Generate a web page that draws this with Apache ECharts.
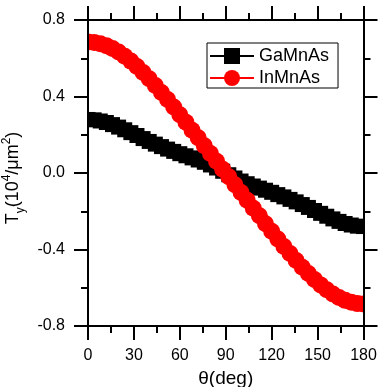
<!DOCTYPE html>
<html><head><meta charset="utf-8">
<script src="https://cdn.jsdelivr.net/npm/echarts@6/dist/echarts.min.js"></script>
<style>html,body{margin:0;padding:0;background:#fff}#c{width:378px;height:387px}</style>
</head><body><div id="c"></div>
<script>
// Data
const angles = [0,4,8,12,16,20,24,28,32,36,40,44,48,52,56,60,64,68,72,76,80,84,88,
  92,96,100,104,108,112,116,120,124,128,132,136,140,144,148,152,156,160,164,168,172,176,180];
const gaMnAs = [0.280,0.278,0.272,0.264,0.253,0.240,0.226,0.211,0.196,0.180,0.165,0.151,0.138,0.125,0.113,0.101,0.090,0.079,0.068,0.056,0.042,0.026,0.009,
  -0.009,-0.026,-0.042,-0.056,-0.068,-0.079,-0.090,-0.101,-0.113,-0.125,-0.138,-0.151,-0.165,-0.180,-0.196,-0.211,-0.226,-0.240,-0.253,-0.264,-0.272,-0.278,-0.280];
const inMnAs = [0.685,0.683,0.676,0.666,0.651,0.633,0.611,0.585,0.557,0.526,0.493,0.458,0.421,0.384,0.345,0.305,0.265,0.224,0.184,0.143,0.102,0.061,0.020,
  -0.020,-0.061,-0.102,-0.143,-0.184,-0.224,-0.265,-0.305,-0.345,-0.384,-0.421,-0.458,-0.493,-0.526,-0.557,-0.585,-0.611,-0.633,-0.651,-0.666,-0.676,-0.683,-0.685];
const seriesNames = ['GaMnAs','InMnAs'];
const xRange = [0, 180, 30];
const yRange = [-0.8, 0.8, 0.4];

const FONT = 'Liberation Sans, Arial, sans-serif';
const G = {left: 88, right: 14.5, top: 20, bottom: 61};
const W = 378, H = 387;

function axisCommon(showLabel) {
  return {
    z: 4,
    axisLine: {show: true, onZero: false, lineStyle: {color: '#000', width: 2}},
    axisTick: {show: true, inside: false, length: 14, lineStyle: {color: '#000', width: 2}},
    minorTick: {show: true, splitNumber: 2, length: 7, lineStyle: {color: '#000', width: 2}},
    splitLine: {show: false},
    minorSplitLine: {show: false},
    axisLabel: {show: showLabel, color: '#000', fontSize: 16, fontFamily: FONT}
  };
}

const xMain = Object.assign(axisCommon(true), {
  type: 'value', position: 'bottom', min: xRange[0], max: xRange[1], interval: xRange[2],
  name: 'θ(deg)', nameLocation: 'middle', nameGap: 42,
  nameTextStyle: {fontSize: 19, fontFamily: FONT, color: '#000'}
});
xMain.axisLabel.margin = 22;
const xTop = Object.assign(axisCommon(false), {
  type: 'value', position: 'top', min: xRange[0], max: xRange[1], interval: xRange[2]
});
const yMain = Object.assign(axisCommon(true), {
  type: 'value', position: 'left', min: yRange[0], max: yRange[1], interval: yRange[2],
  name: '{a|T}{sub|y}{a|(10}{sup|4}{a|/μm}{sup|2}{a|)}',
  nameLocation: 'middle', nameGap: 56, nameRotate: 90,
  nameTextStyle: {
    fontFamily: FONT, color: '#000', fontSize: 18, lineHeight: 26, padding: [0, 10, 0, 0],
    rich: {
      a: {fontSize: 18, fontFamily: FONT, color: '#000', lineHeight: 26, verticalAlign: 'middle'},
      sub: {fontSize: 12, fontFamily: FONT, color: '#000', lineHeight: 26, verticalAlign: 'bottom'},
      sup: {fontSize: 12, fontFamily: FONT, color: '#000', lineHeight: 26, verticalAlign: 'top'}
    }
  }
});
yMain.axisLabel.margin = 23;
yMain.axisLabel.formatter = v => v.toFixed(1);
const yRight = Object.assign(axisCommon(false), {
  type: 'value', position: 'right', min: yRange[0], max: yRange[1], interval: yRange[2]
});

const chart = echarts.init(document.getElementById('c'), null, {renderer: 'canvas'});
chart.setOption({
  animation: false,
  backgroundColor: '#fff',
  grid: {left: G.left, right: G.right, top: G.top, bottom: G.bottom, containLabel: false, outerBoundsMode: 'none'},
  xAxis: [xMain, xTop],
  yAxis: [yMain, yRight],
  legend: {
    orient: 'vertical', left: 207, top: 43, z: 5,
    padding: [4, 9, 1, 2], itemGap: 4, itemWidth: 44, itemHeight: 20,
    borderColor: '#000', borderWidth: 1, backgroundColor: '#fff',
    textStyle: {fontSize: 18, fontFamily: FONT, color: '#000'},
    data: seriesNames
  },
  graphic: [
    {type: 'rect', z: 3, silent: true, shape: {x: 0, y: 0, width: G.left - 1, height: H}, style: {fill: '#fff'}},
    {type: 'rect', z: 3, silent: true, shape: {x: W - G.right + 1, y: 0, width: G.right, height: H}, style: {fill: '#fff'}}
  ],
  series: [
    {
      name: seriesNames[0], type: 'line', z: 2, symbol: 'rect', symbolSize: 15,
      data: angles.map((a, i) => [a, gaMnAs[i]]),
      itemStyle: {color: '#000'}, lineStyle: {color: '#000', width: 1}
    },
    {
      name: seriesNames[1], type: 'line', z: 2, symbol: 'circle', symbolSize: 17,
      data: angles.map((a, i) => [a, inMnAs[i]]),
      itemStyle: {color: '#ff0000'}, lineStyle: {color: '#ff0000', width: 1}
    }
  ]
});
</script></body></html>
